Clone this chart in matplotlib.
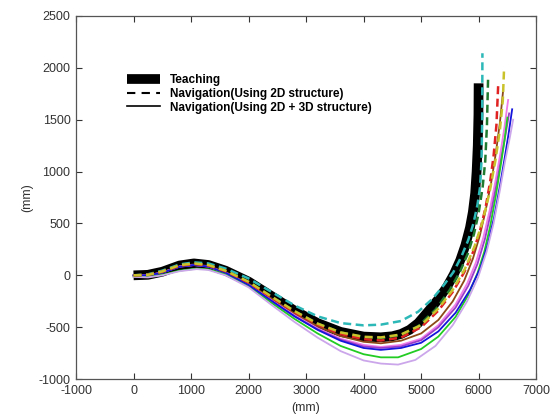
import matplotlib
matplotlib.use('Agg')
import matplotlib.pyplot as plt
from matplotlib.lines import Line2D

# teaching path (mm)
teach_x = [0, 250, 500, 800, 1050, 1300, 1600, 2000, 2400, 2800, 3200, 3600, 4000, 4300, 4500,
           4650, 4800, 4950, 5150, 5300, 5450, 5570, 5680, 5770, 5850, 5900, 5940, 5965, 5985,
           5997, 6000]
teach_y = [0, 5, 35, 95, 115, 100, 45, -60, -200, -340, -460, -545, -590, -597, -587,
           -565, -525, -460, -330, -230, -110, 10, 145, 290, 460, 610, 790, 1000, 1250,
           1550, 1850]

# navigation runs using 2D structure (dashed)
cyan_x = [0, 250, 500, 800, 1050, 1300, 1600, 2000, 2400, 2800, 3200, 3600, 4000, 4300, 4650,
          4950, 5200, 5400, 5560, 5700, 5820, 5910, 5980, 6025, 6050, 6062, 6066]
cyan_y = [0, 10, 45, 105, 125, 115, 65, -30, -160, -290, -395, -460, -482, -475, -440,
          -350, -225, -90, 30, 180, 340, 500, 680, 850, 1100, 1500, 2140]
dgreen_x = [0, 250, 500, 800, 1050, 1300, 1600, 2000, 2400, 2800, 3200, 3600, 4000, 4300, 4650,
            4950, 5250, 5500, 5680, 5820, 5920, 6000, 6070, 6115, 6145, 6165]
dgreen_y = [0, 5, 35, 95, 112, 97, 42, -65, -205, -345, -465, -550, -595, -605, -575,
            -490, -330, -140, 40, 220, 400, 600, 850, 1100, 1450, 1910]
red_x = [0, 250, 500, 800, 1050, 1300, 1600, 2000, 2400, 2800, 3200, 3600, 4000, 4300, 4650,
         5000, 5300, 5550, 5750, 5900, 6020, 6120, 6200, 6260, 6310, 6340]
red_y = [0, 5, 35, 92, 110, 95, 40, -70, -215, -355, -475, -565, -615, -628, -600,
         -500, -340, -160, 30, 220, 420, 650, 900, 1150, 1450, 1830]
yellow_x = [0, 250, 500, 800, 1050, 1300, 1600, 2000, 2400, 2800, 3200, 3600, 4000, 4300, 4650,
            5000, 5300, 5550, 5760, 5930, 6070, 6190, 6290, 6370, 6420, 6443]
yellow_y = [0, 5, 38, 98, 115, 100, 45, -62, -205, -345, -465, -550, -592, -598, -570,
            -480, -320, -140, 60, 280, 520, 800, 1100, 1400, 1680, 2000]

# navigation runs using 2D + 3D structure (solid)
brown_x = [0, 250, 500, 800, 1050, 1300, 1600, 2000, 2400, 2800, 3200, 3600, 4000, 4300, 4650,
           5000, 5300, 5550, 5750, 5900, 6020, 6120, 6220, 6300, 6370, 6426]
brown_y = [0, 0, 30, 88, 105, 90, 32, -80, -225, -370, -490, -585, -640, -655, -630,
           -560, -430, -250, -50, 160, 380, 620, 900, 1180, 1470, 1780]
pink_x = [0, 250, 500, 800, 1050, 1300, 1600, 2000, 2400, 2800, 3200, 3600, 4000, 4300, 4650,
          5000, 5300, 5600, 5800, 5950, 6080, 6190, 6290, 6380, 6450, 6513]
pink_y = [0, 0, 28, 85, 100, 85, 25, -90, -240, -385, -510, -610, -670, -690, -670,
          -610, -480, -280, -80, 120, 360, 620, 900, 1180, 1430, 1690]
purple_x = [0, 250, 500, 800, 1050, 1300, 1600, 2000, 2400, 2800, 3200, 3600, 4000, 4300, 4650,
            5000, 5300, 5600, 5820, 5980, 6110, 6220, 6320, 6410, 6475, 6530]
purple_y = [0, 0, 26, 83, 98, 83, 22, -95, -250, -395, -520, -620, -685, -700, -685,
            -625, -500, -310, -100, 110, 350, 620, 900, 1180, 1380, 1560]
green_x = [0, 250, 500, 800, 1100, 1300, 1600, 2000, 2400, 2800, 3200, 3600, 4000, 4300, 4600,
           5000, 5300, 5600, 5820, 5980, 6100, 6200, 6300, 6390, 6450, 6500]
green_y = [-10, -15, 5, 45, 65, 58, 10, -100, -265, -420, -560, -680, -760, -790, -790,
           -710, -590, -400, -190, 20, 230, 470, 770, 1080, 1300, 1520]
blue_x = [0, 250, 500, 800, 1050, 1300, 1600, 2000, 2400, 2800, 3200, 3600, 4000, 4300, 4650,
          5000, 5300, 5600, 5850, 6030, 6160, 6270, 6370, 6450, 6520, 6583]
blue_y = [0, 0, 25, 82, 100, 85, 25, -92, -245, -395, -525, -630, -700, -718, -700,
          -650, -540, -360, -140, 70, 300, 560, 860, 1120, 1360, 1600]
violet_x = [0, 250, 500, 800, 1100, 1300, 1600, 2000, 2400, 2800, 3200, 3600, 4000, 4300, 4600,
            4900, 5250, 5550, 5800, 5990, 6140, 6260, 6370, 6460, 6540, 6600]
violet_y = [-15, -20, 0, 40, 60, 52, 0, -115, -285, -450, -600, -730, -820, -850, -860,
            -815, -680, -480, -250, -20, 230, 500, 820, 1100, 1320, 1500]

dashed_runs = [(cyan_x, cyan_y, '#2DB8B8'), (dgreen_x, dgreen_y, '#1F7A30'),
               (red_x, red_y, '#E02222'), (yellow_x, yellow_y, '#C9C22A')]
solid_runs = [(brown_x, brown_y, '#8B4A16'), (pink_x, pink_y, '#F07CE8'),
              (purple_x, purple_y, '#9A3CC8'), (green_x, green_y, '#22CC22'),
              (blue_x, blue_y, '#1414DC'), (violet_x, violet_y, '#CBA6EA')]

legend_labels = ['Teaching', 'Navigation(Using 2D structure)', 'Navigation(Using 2D + 3D structure)']

plt.rcParams.update({'font.family': 'Liberation Sans', 'axes.unicode_minus': False})
fig = plt.figure(figsize=(5.55, 4.18), dpi=100, facecolor='white')
ax = fig.add_axes([0.137, 0.093, 0.829, 0.869])

ax.plot(teach_x, teach_y, color='black', lw=7, solid_capstyle='butt', solid_joinstyle='round', zorder=1)
for xs, ys, c in solid_runs:
    ax.plot(xs, ys, color=c, lw=1.3, zorder=2)
for xs, ys, c in dashed_runs:
    ax.plot(xs, ys, color=c, lw=1.8, linestyle=(0, (3.2, 1.8)), zorder=3)

ax.set_xlim(-1000, 7000)
ax.set_ylim(-1000, 2500)
ax.set_xticks(range(-1000, 7001, 1000))
ax.set_yticks(range(-1000, 2501, 500))
ax.tick_params(direction='in', length=4, width=0.8, top=True, right=True,
               labelsize=9, colors='#333333', pad=4)
for s in ax.spines.values():
    s.set_color('#555555')
    s.set_linewidth(0.9)
ax.set_xlabel('(mm)', fontsize=9, color='#333333', labelpad=4)
ax.set_ylabel('(mm)', fontsize=9, color='#333333', labelpad=4)

handles = [Line2D([], [], color='black', lw=7, solid_capstyle='butt'),
           Line2D([], [], color='black', lw=1.5, linestyle=(0, (4, 3))),
           Line2D([], [], color='black', lw=1.2)]
leg = ax.legend(handles, legend_labels, loc='upper left', bbox_to_anchor=(0.11, 0.84),
                frameon=False, borderaxespad=0, borderpad=0, handlelength=2.8,
                handletextpad=0.9, labelspacing=0.15,
                prop={'family': 'Liberation Sans', 'weight': 'bold', 'size': 8.5})

fig.savefig('out.png', dpi=100, facecolor='white')
